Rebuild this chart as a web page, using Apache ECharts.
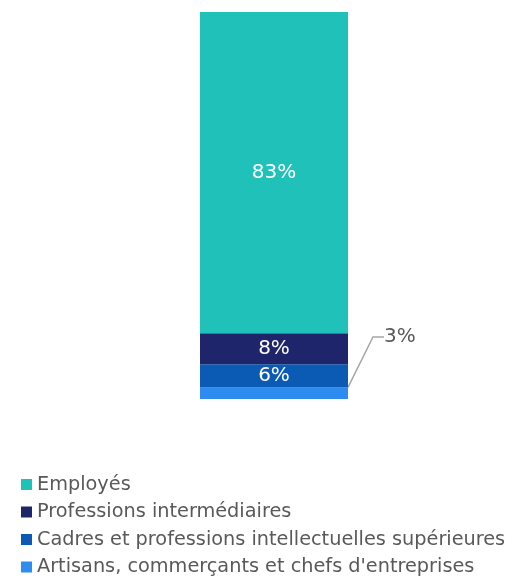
<!DOCTYPE html>
<html><head><meta charset="utf-8">
<script src="https://cdn.jsdelivr.net/npm/echarts@6/dist/echarts.min.js"></script>
<style>html,body{margin:0;padding:0;background:#fff}#c{width:514px;height:579px}</style>
</head><body><div id="c"></div>
<script>
var categories = ['Total'];
var seriesNames = ['Artisans, commerçants et chefs d\'entreprises', 'Cadres et professions intellectuelles supérieures', 'Professions intermédiaires', 'Employés'];
var artisans = [3];
var cadres = [6];
var profInter = [8];
var employes = [83];
var legendOrder = ['Employés', 'Professions intermédiaires', 'Cadres et professions intellectuelles supérieures', 'Artisans, commerçants et chefs d\'entreprises'];
var colors = ['#2E8CF0', '#0B5BB5', '#1F256B', '#20C1B9'];
var values = [artisans, cadres, profInter, employes];

var chart = echarts.init(document.getElementById('c'));
var font = 'DejaVu Sans, sans-serif';
var series = seriesNames.map(function (n, i) {
  var s = {
    name: n, type: 'bar', stack: 't', data: values[i], barWidth: 148,
    itemStyle: { color: colors[i] },
    label: { show: true, position: 'inside', color: '#fff', fontSize: 20, fontFamily: font, formatter: '{c}%' }
  };
  if (i === 0) {
    s.label = { show: true, position: 'right', color: '#595959', fontSize: 20, fontFamily: font, formatter: '{c}%' };
    s.labelLayout = { x: 384, y: 337, align: 'left', verticalAlign: 'middle' };
    s.labelLine = { show: true, length2: 11, lineStyle: { color: '#A6A6A6', width: 1.5 } };
  }
  return s;
});
chart.setOption({
  animation: false,
  grid: { left: 200, width: 148, top: 12, bottom: 180 },
  xAxis: { type: 'category', data: categories, show: false },
  yAxis: { type: 'value', min: 0, max: 100, show: false },
  legend: {
    data: legendOrder, orient: 'vertical', left: 21, top: 475, height: 110, padding: 0,
    itemWidth: 11, itemHeight: 11, itemGap: 8.5, icon: 'rect',
    textStyle: { color: '#595959', fontSize: 19.3, lineHeight: 18, fontFamily: font }
  },
  series: series
});
</script></body></html>
